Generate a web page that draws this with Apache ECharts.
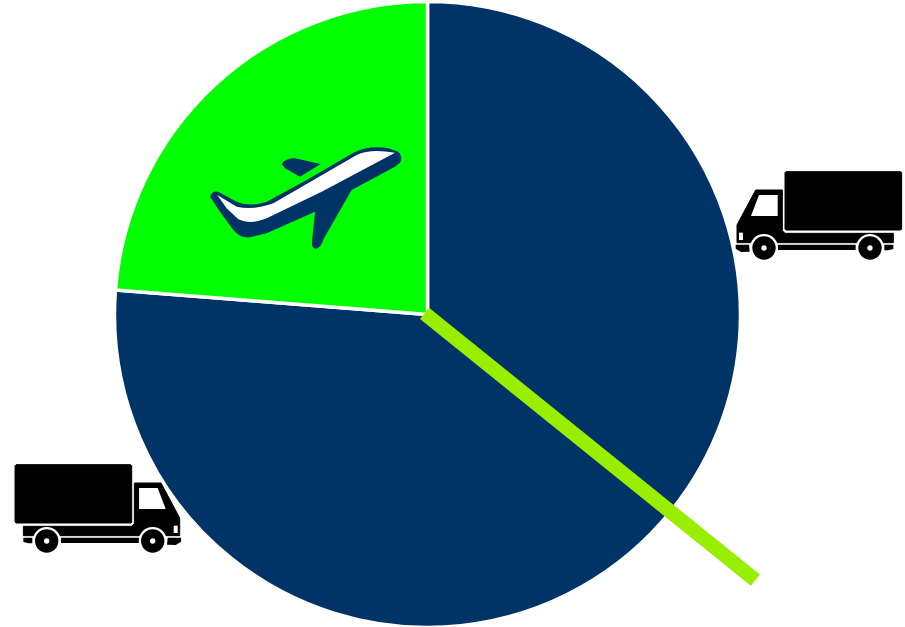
<!DOCTYPE html>
<html><head><meta charset="utf-8">
<style>html,body{margin:0;padding:0;background:#fff}#c{width:905px;height:627px}</style>
<script src="https://cdn.jsdelivr.net/npm/echarts@6/dist/echarts.min.js"></script>
</head><body><div id="c"></div>
<script>
const categories = ['Road A', 'Road B', 'Air'];
const shares = [35.8, 40.45, 23.75];
const sliceColors = ['#003366', '#003366', '#00ff00'];
const dividerValue = 35.8;

const truckBody = 'M92 90 L172 90 L172 212 L180 220 L505 220 L505 248 L470 248 A38 38 0 0 0 400 248 L152 248 A38 38 0 0 0 80 248 L36 248 L36 195 Z';
const truckBox = 'M183 35 L527 35 L530 38 L530 207 L527 210 L183 210 L180 207 L180 38 Z';
const truckWindow = 'M102 105 L158 105 L158 168 L78 168 Z';
const truckLamp = 'M42 218 L54 218 L54 240 L42 240 Z';
const truckSill = 'M157 254 L392 254 L392 270 L157 270 Z';
const truckBumperA = 'M32 254 L72 254 L74 275 L48 276 L32 266 Z';
const truckBumperB = 'M478 254 L505 254 L505 267 L490 271 L478 271 Z';
const wheelSpots = [[117, 264], [435, 264]];

const planeHull = 'M30 170 Q35 152 55 155 L110 185 Q150 202 200 185 L320 120 L460 38 Q510 15 565 25 L595 35 Q610 50 600 68 L585 80 L455 150 L372 295 Q360 330 345 326 Q334 322 336 305 L345 215 L200 280 L150 292 Q120 295 100 270 L60 215 Z';
const planeWhite = 'M52 165 L110 200 Q160 212 220 190 L470 45 Q510 25 585 38 L365 155 L200 235 Q150 255 115 238 L80 205 Z';
const planeFin = 'M245 72 Q255 55 285 55 L362 72 L300 110 L255 85 Z';

const iconPaths = { truckBody, truckBox, truckWindow, truckLamp, truckSill, truckBumperA, truckBumperB, planeHull, planeWhite, planeFin };
Object.keys(iconPaths).forEach(k => echarts.graphic.registerShape(k, echarts.graphic.extendPath(iconPaths[k])));

const iconZ = 20;
function truck(x, y, sx) {
  const black = { fill: '#000', stroke: '#000', lineWidth: 3, lineJoin: 'round' };
  const kids = [
    { type: 'truckBody', z: iconZ, style: black },
    { type: 'truckBox', z: iconZ, style: black },
    { type: 'truckWindow', z: iconZ + 1, style: { fill: '#fff' } },
    { type: 'truckLamp', z: iconZ + 1, style: { fill: '#fff' } },
    { type: 'truckSill', z: iconZ, style: { fill: '#000' } },
    { type: 'truckBumperA', z: iconZ, style: { fill: '#000' } },
    { type: 'truckBumperB', z: iconZ, style: { fill: '#000' } }
  ];
  wheelSpots.forEach(w => {
    kids.push({ type: 'circle', z: iconZ + 1, shape: { cx: w[0], cy: w[1], r: 42 }, style: { fill: '#fff' } });
    kids.push({ type: 'circle', z: iconZ + 2, shape: { cx: w[0], cy: w[1], r: 35 }, style: { fill: '#000' } });
    kids.push({ type: 'circle', z: iconZ + 3, shape: { cx: w[0], cy: w[1], r: 8 }, style: { fill: '#fff' } });
  });
  return { type: 'group', x, y, scaleX: sx, scaleY: 1 / 3, silent: true, children: kids };
}

const chart = echarts.init(document.getElementById('c'), null, { renderer: 'canvas' });
chart.setOption({
  animation: false,
  backgroundColor: '#fff',
  tooltip: { show: false },
  legend: { show: false },
  series: [
    {
      type: 'pie',
      silent: true,
      center: [427.5, 314.5],
      radius: [0, 313],
      startAngle: 90,
      clockwise: true,
      label: { show: false },
      labelLine: { show: false },
      itemStyle: { borderColor: '#fff', borderWidth: 3.5 },
      data: categories.map((name, i) => ({ name, value: shares[i], itemStyle: { color: sliceColors[i] } }))
    },
    {
      type: 'gauge',
      silent: true,
      center: [425.7, 314.4],
      radius: 311,
      min: 0,
      max: 100,
      startAngle: 90,
      endAngle: -270,
      axisLine: { show: false },
      axisTick: { show: false },
      splitLine: { show: false },
      axisLabel: { show: false },
      anchor: { show: false },
      title: { show: false },
      detail: { show: false },
      pointer: { show: true, icon: 'rect', length: 422, width: 11.4, itemStyle: { color: '#99ee00', borderColor: '#99ee00', borderWidth: 3 } },
      z: 10,
      data: [{ value: dividerValue }]
    }
  ],
  graphic: [
    truck(725, 160, 1 / 3),
    truck(191.7, 453, -1 / 3),
    {
      type: 'group', x: 200, y: 140, scaleX: 1 / 3, scaleY: 1 / 3, silent: true,
      children: [
        { type: 'planeHull', z: iconZ, style: { fill: '#003366' } },
        { type: 'planeFin', z: iconZ, style: { fill: '#003366' } },
        { type: 'planeWhite', z: iconZ + 1, style: { fill: '#fff' } }
      ]
    }
  ]
});
</script></body></html>
